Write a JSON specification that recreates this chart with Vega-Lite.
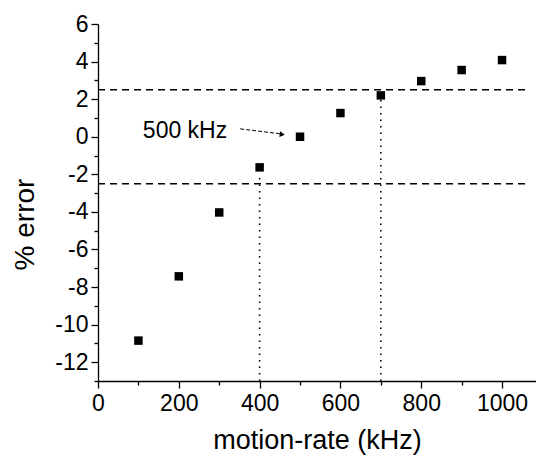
{
  "$schema": "https://vega.github.io/schema/vega-lite/v6.json",
  "autosize": {"type": "none"},
  "padding": {"left": 98, "top": 24, "right": 0, "bottom": 81},
  "width": 438,
  "height": 357,
  "config": {
    "view": {"stroke": null},
    "font": "Liberation Sans",
    "axis": {
      "grid": false,
      "domainColor": "black",
      "domainWidth": 1.3,
      "tickColor": "black",
      "tickWidth": 1.3,
      "labelColor": "black",
      "titleColor": "black",
      "labelFont": "Liberation Sans",
      "titleFont": "Liberation Sans",
      "labelFontSize": 23,
      "titleFontWeight": "normal",
      "labelFlush": false,
      "labelOverlap": false
    }
  },
  "resolve": {"axis": {"x": "independent", "y": "independent"}},
  "datasets": {
    "points": [
      {"rate": 100, "err": -10.85},
      {"rate": 200, "err": -7.43},
      {"rate": 300, "err": -4.03},
      {"rate": 400, "err": -1.63},
      {"rate": 500, "err": 0.0},
      {"rate": 600, "err": 1.26},
      {"rate": 700, "err": 2.2},
      {"rate": 800, "err": 2.96},
      {"rate": 900, "err": 3.55},
      {"rate": 1000, "err": 4.08}
    ],
    "hlines": [
      {"x0": 0, "x1": 1065, "y": 2.5},
      {"x0": 0, "x1": 1065, "y": -2.5}
    ],
    "vlines": [
      {"x": 400, "y0": -13, "y1": -1.95},
      {"x": 700, "y0": -13, "y1": 1.95}
    ],
    "label": [
      {"x": 111, "y": -0.05, "text": "500 kHz"}
    ],
    "arrow": [
      {"x0": 352, "y0": 0.42, "x1": 450, "y1": 0.16}
    ],
    "arrowhead": [
      {"x": 456, "y": 0.12}
    ]
  },
  "layer": [
    {
      "data": {"name": "hlines"},
      "mark": {"type": "rule", "color": "black", "strokeWidth": 1.5, "strokeDash": [7, 5]},
      "encoding": {
        "x": {"field": "x0", "type": "quantitative", "scale": {"domain": [0, 1084], "nice": false},
          "axis": {
            "orient": "bottom",
            "title": "motion-rate (kHz)",
            "titleFontSize": 27,
            "values": [0, 200, 400, 600, 800, 1000],
            "labelExpr": "format(datum.value, 'd')",
            "tickSize": 7,
            "labelPadding": 4,
            "titlePadding": 12
          }},
        "x2": {"field": "x1"},
        "y": {"field": "y", "type": "quantitative", "scale": {"domain": [-13, 6], "nice": false},
          "axis": {
            "orient": "left",
            "title": "% error",
            "titleFontSize": 28,
            "values": [-12, -10, -8, -6, -4, -2, 0, 2, 4, 6],
            "labelExpr": "(datum.value < 0 ? '-' : '') + abs(datum.value)",
            "tickSize": 7,
            "labelPadding": 3,
            "titleAngle": -90,
            "titleAlign": "center",
            "titleBaseline": "alphabetic",
            "titleX": -65,
            "titleY": 200
          }}
      }
    },
    {
      "data": {"name": "vlines"},
      "mark": {"type": "rule", "color": "black", "strokeWidth": 1.6, "strokeDash": [1.5, 5]},
      "encoding": {
        "x": {"field": "x", "type": "quantitative",
          "axis": {"orient": "bottom", "values": [100, 300, 500, 700, 900], "labels": false, "domain": false, "tickSize": 4, "title": null}},
        "y": {"field": "y0", "type": "quantitative",
          "axis": {"orient": "left", "values": [-13, -11, -9, -7, -5, -3, -1, 1, 3, 5], "labels": false, "domain": false, "tickSize": 4, "title": null}},
        "y2": {"field": "y1"}
      }
    },
    {
      "data": {"name": "arrow"},
      "mark": {"type": "rule", "color": "black", "strokeWidth": 1, "strokeDash": [4, 2]},
      "encoding": {
        "x": {"field": "x0", "type": "quantitative", "axis": null},
        "x2": {"field": "x1"},
        "y": {"field": "y0", "type": "quantitative", "axis": null},
        "y2": {"field": "y1"}
      }
    },
    {
      "data": {"name": "arrowhead"},
      "mark": {"type": "point", "shape": "triangle-right", "filled": true, "color": "black", "size": 35, "angle": 8, "opacity": 1},
      "encoding": {
        "x": {"field": "x", "type": "quantitative", "axis": null},
        "y": {"field": "y", "type": "quantitative", "axis": null}
      }
    },
    {
      "data": {"name": "points"},
      "mark": {"type": "point", "shape": "square", "filled": true, "color": "black", "size": 72, "opacity": 1},
      "encoding": {
        "x": {"field": "rate", "type": "quantitative", "axis": null},
        "y": {"field": "err", "type": "quantitative", "axis": null}
      }
    },
    {
      "data": {"name": "label"},
      "mark": {"type": "text", "align": "left", "baseline": "alphabetic", "fontSize": 23, "font": "Liberation Sans", "color": "black"},
      "encoding": {
        "x": {"field": "x", "type": "quantitative", "axis": null},
        "y": {"field": "y", "type": "quantitative", "axis": null},
        "text": {"field": "text"}
      }
    }
  ]
}
